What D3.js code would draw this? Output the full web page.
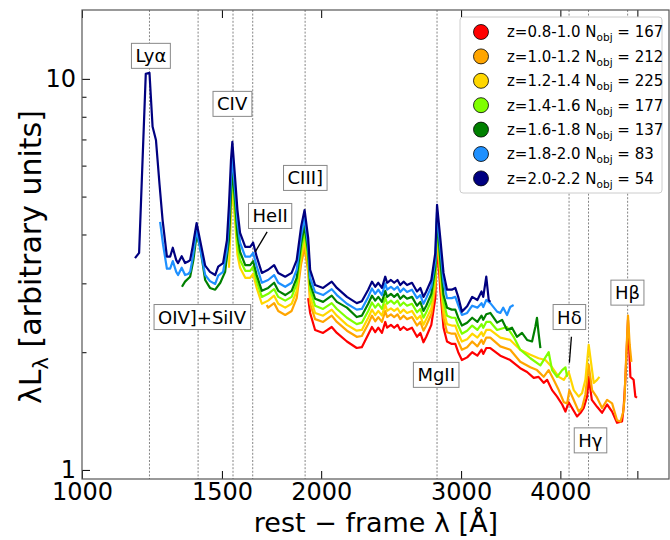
<!DOCTYPE html>
<html><head><meta charset="utf-8">
<script src="https://cdn.jsdelivr.net/npm/d3@7"></script>
<style>body{margin:0;background:#fff}svg text{font-family:"DejaVu Sans",sans-serif}</style>
</head><body><svg id="c" width="670" height="540"></svg>
<script>
// ---- data: composite spectra [rest wavelength (Å), λLλ (arbitrary units)] ----
const specRed = [[1926,2.75],[1937,2.52],[1965,2.28],[2011,2.24],[2062,2.32],[2093,2.24],[2155,2.13],[2217,2.05],[2250,2.06],[2292,2.22],[2317,2.32],[2339,2.25],[2360,2.31],[2385,2.24],[2408,2.39],[2421,2.31],[2448,2.35],[2471,2.31],[2495,2.35],[2515,2.28],[2539,2.32],[2565,2.28],[2602,2.31],[2640,2.19],[2666,2.24],[2690,2.12],[2712,2.19],[2752,2.35],[2784,2.75],[2798,3.87],[2826,2.85],[2851,2.31],[2880,2.13],[2920,2.10],[2950,2.10],[2975,2.00],[3007,1.91],[3053,1.94],[3098,2.00],[3145,1.96],[3183,2.03],[3199,1.98],[3227,2.05],[3265,2.05],[3361,1.96],[3459,1.91],[3561,1.82],[3632,1.78],[3703,1.72],[3755,1.73],[3811,1.67],[3849,1.70],[3905,1.60],[3962,1.54],[4021,1.47],[4059,1.41],[4098,1.49],[4138,1.44],[4198,1.37],[4241,1.40],[4280,1.44],[4322,1.54],[4342,1.73],[4382,1.51],[4449,1.45],[4514,1.40],[4580,1.47],[4647,1.41],[4714,1.32],[4783,1.33],[4806,1.45],[4829,1.70],[4866,2.42],[4900,1.73],[4946,1.70],[4971,1.54],[4995,1.53]];
const specOrange = [[1708,2.64],[1715,2.60],[1745,2.67],[1766,2.55],[1802,2.49],[1836,2.55],[1863,2.75],[1887,3.36],[1906,3.70],[1926,3.21],[1937,2.66],[1965,2.43],[2011,2.39],[2062,2.48],[2093,2.39],[2155,2.27],[2217,2.19],[2250,2.20],[2292,2.36],[2317,2.48],[2339,2.40],[2360,2.46],[2385,2.39],[2408,2.55],[2421,2.46],[2448,2.50],[2471,2.46],[2495,2.50],[2515,2.43],[2539,2.48],[2565,2.43],[2602,2.46],[2640,2.34],[2666,2.39],[2690,2.27],[2712,2.34],[2752,2.50],[2784,2.94],[2798,4.11],[2826,3.03],[2851,2.45],[2880,2.25],[2920,2.23],[2950,2.23],[2975,2.13],[3007,2.03],[3053,2.06],[3098,2.13],[3145,2.07],[3183,2.15],[3199,2.10],[3227,2.18],[3265,2.18],[3361,2.07],[3459,2.03],[3561,1.89],[3667,1.83],[3738,1.80],[3811,1.73],[3866,1.80],[3923,1.70],[3981,1.60],[4040,1.49],[4079,1.48],[4106,1.60],[4158,1.51],[4219,1.41],[4259,1.44],[4301,1.56],[4342,1.86],[4385,1.60],[4449,1.53],[4514,1.44],[4580,1.51],[4647,1.48],[4714,1.34],[4760,1.33],[4797,1.40],[4816,1.51],[4837,1.88],[4866,2.48],[4890,2.09],[4914,1.89]];
const specYellow = [[1531,3.29],[1545,5.36],[1558,4.36],[1569,3.55],[1581,3.29],[1605,3.10],[1628,3.10],[1642,3.17],[1659,2.92],[1684,2.66],[1715,2.71],[1745,2.79],[1766,2.66],[1802,2.60],[1836,2.66],[1863,2.87],[1887,3.50],[1906,3.87],[1926,3.34],[1937,2.77],[1965,2.52],[2011,2.48],[2062,2.57],[2093,2.48],[2155,2.35],[2217,2.27],[2250,2.28],[2292,2.45],[2317,2.57],[2339,2.49],[2360,2.55],[2385,2.48],[2408,2.65],[2421,2.55],[2448,2.59],[2471,2.55],[2495,2.59],[2515,2.52],[2539,2.57],[2565,2.52],[2602,2.55],[2640,2.43],[2666,2.48],[2690,2.35],[2712,2.43],[2752,2.59],[2784,3.04],[2798,4.21],[2826,3.15],[2851,2.57],[2880,2.36],[2920,2.34],[2950,2.34],[2975,2.23],[3007,2.13],[3053,2.16],[3098,2.23],[3145,2.18],[3183,2.25],[3199,2.20],[3227,2.28],[3265,2.28],[3361,2.18],[3459,2.15],[3561,2.03],[3667,1.97],[3755,1.93],[3830,1.91],[3905,1.83],[3981,1.73],[4040,1.70],[4098,1.78],[4158,1.60],[4219,1.54],[4259,1.57],[4301,1.70],[4342,2.09],[4372,1.88],[4406,1.67],[4449,1.70],[4479,1.73]];
const specLime = [[1518,3.40],[1531,4.20],[1545,5.68],[1558,4.62],[1569,3.76],[1581,3.44],[1605,3.23],[1628,3.23],[1642,3.31],[1659,3.04],[1684,2.77],[1715,2.82],[1745,2.90],[1766,2.77],[1802,2.71],[1836,2.77],[1863,2.99],[1887,3.65],[1906,4.06],[1926,3.48],[1937,2.89],[1965,2.63],[2011,2.58],[2062,2.67],[2093,2.58],[2155,2.45],[2217,2.36],[2250,2.38],[2292,2.55],[2317,2.68],[2339,2.60],[2360,2.66],[2385,2.58],[2408,2.76],[2421,2.66],[2448,2.71],[2471,2.66],[2495,2.71],[2515,2.63],[2539,2.68],[2565,2.63],[2602,2.66],[2640,2.53],[2666,2.58],[2690,2.45],[2712,2.53],[2752,2.71],[2784,3.17],[2798,4.31],[2826,3.29],[2851,2.69],[2880,2.48],[2920,2.45],[2950,2.45],[2975,2.34],[3007,2.23],[3053,2.27],[3098,2.34],[3145,2.28],[3183,2.36],[3199,2.31],[3227,2.39],[3265,2.39],[3330,2.28],[3427,2.32],[3493,2.19],[3561,2.03],[3667,1.93],[3775,1.85],[3867,2.00],[3905,1.80],[3962,1.73],[4021,1.80],[4059,1.83],[4079,1.73]];
const specGreen = [[1336,2.94],[1348,3.03],[1368,3.12],[1381,3.44],[1394,3.99],[1408,3.72],[1429,3.06],[1449,2.92],[1471,2.89],[1493,3.01],[1514,3.21],[1531,3.87],[1545,5.92],[1558,4.90],[1569,3.99],[1581,3.61],[1605,3.34],[1628,3.34],[1642,3.42],[1659,3.15],[1684,2.87],[1715,2.92],[1745,3.01],[1766,2.87],[1802,2.80],[1836,2.87],[1863,3.10],[1887,3.79],[1906,4.21],[1926,3.61],[1937,2.99],[1965,2.74],[2011,2.69],[2062,2.79],[2093,2.69],[2155,2.60],[2217,2.46],[2250,2.48],[2292,2.66],[2317,2.79],[2339,2.71],[2360,2.77],[2385,2.69],[2408,2.87],[2421,2.77],[2448,2.82],[2471,2.77],[2495,2.82],[2515,2.74],[2539,2.79],[2565,2.74],[2602,2.77],[2640,2.63],[2666,2.69],[2690,2.55],[2712,2.63],[2752,2.82],[2784,3.29],[2798,4.41],[2826,3.40],[2851,2.80],[2880,2.60],[2920,2.57],[2950,2.57],[2975,2.45],[3007,2.34],[3053,2.38],[3098,2.45],[3145,2.39],[3183,2.48],[3199,2.42],[3227,2.50],[3265,2.52],[3330,2.38],[3378,2.42],[3427,2.28],[3477,2.31],[3527,2.19],[3579,2.24],[3632,2.15],[3685,2.13],[3720,2.32],[3738,2.45],[3755,2.24],[3775,2.05]];
const specBlue = [[1254,4.31],[1265,3.76],[1279,3.27],[1291,3.27],[1301,3.42],[1314,3.21],[1321,3.15],[1335,3.29],[1348,3.15],[1360,3.17],[1368,3.21],[1378,3.48],[1394,4.11],[1408,3.70],[1429,3.15],[1449,3.04],[1471,2.99],[1484,3.14],[1505,3.21],[1522,3.65],[1531,4.36],[1540,5.62],[1546,6.32],[1558,5.20],[1569,4.31],[1581,3.81],[1605,3.51],[1628,3.51],[1642,3.59],[1659,3.32],[1684,3.01],[1715,3.06],[1745,3.15],[1766,3.01],[1802,2.94],[1836,3.01],[1863,3.25],[1887,3.97],[1906,4.41],[1926,3.74],[1937,3.10],[1965,2.85],[2011,2.80],[2062,2.90],[2093,2.80],[2155,2.66],[2217,2.57],[2250,2.58],[2292,2.77],[2317,2.91],[2339,2.82],[2360,2.89],[2385,2.80],[2408,3.00],[2421,2.89],[2448,2.94],[2471,2.89],[2495,2.94],[2515,2.85],[2539,2.91],[2565,2.85],[2602,2.89],[2640,2.75],[2666,2.80],[2690,2.66],[2712,2.75],[2752,2.94],[2784,3.44],[2798,4.57],[2826,3.65],[2851,3.03],[2880,2.75],[2920,2.75],[2950,2.77],[2975,2.64],[3007,2.49],[3053,2.52],[3098,2.63],[3145,2.60],[3183,2.67],[3199,2.61],[3227,2.72],[3265,2.67],[3330,2.54],[3361,2.52],[3390,2.60],[3427,2.49],[3459,2.61],[3493,2.64]];
const specNavy = [[1166,3.48],[1180,3.59],[1203,10.30],[1216,10.36],[1227,7.54],[1239,6.98],[1252,5.36],[1263,4.36],[1279,3.51],[1291,3.51],[1301,3.70],[1314,3.44],[1321,3.38],[1335,3.52],[1348,3.38],[1360,3.41],[1368,3.44],[1378,3.72],[1394,4.28],[1408,3.87],[1429,3.33],[1449,3.21],[1471,3.15],[1484,3.31],[1505,3.38],[1522,3.87],[1531,4.76],[1540,6.21],[1546,6.90],[1558,5.62],[1569,4.62],[1581,4.04],[1605,3.72],[1628,3.72],[1642,3.81],[1659,3.51],[1684,3.19],[1715,3.25],[1745,3.34],[1766,3.19],[1802,3.12],[1836,3.19],[1863,3.44],[1887,4.19],[1906,4.62],[1926,3.92],[1937,3.25],[1965,2.97],[2011,2.92],[2062,3.03],[2093,2.92],[2155,2.77],[2217,2.67],[2250,2.70],[2292,2.89],[2317,3.03],[2339,2.94],[2360,3.01],[2385,2.92],[2408,3.12],[2421,3.01],[2448,3.06],[2471,3.01],[2495,3.06],[2515,2.97],[2539,3.03],[2565,2.97],[2602,3.01],[2640,2.86],[2666,2.92],[2690,2.77],[2712,2.86],[2752,3.06],[2784,3.59],[2798,4.76],[2826,3.87],[2851,3.19],[2880,2.89],[2920,2.89],[2950,2.92],[2975,2.77],[3007,2.54],[3053,2.62],[3098,2.77],[3145,2.72],[3183,2.86],[3199,2.77],[3227,3.12],[3250,2.72],[3265,2.69]];

const zBins = ["z=0.8-1.0","z=1.0-1.2","z=1.2-1.4","z=1.4-1.6","z=1.6-1.8","z=1.8-2.0","z=2.0-2.2"];
const nObj = [167,212,225,177,137,83,54];
const colors = ["#ff0000","#ffa500","#ffd700","#7fff00","#008000","#1e90ff","#000080"];
const spectra = [specRed,specOrange,specYellow,specLime,specGreen,specBlue,specNavy];

// emission lines: name, rest wavelength, label anchor (λ, value)
const lineNames = ["Lyα","OIV]+SiIV","CIV","HeII","CIII]","MgII","Hδ","Hγ","Hβ"];
const lineWaves = [1216,1400,1549,1640,1909,2798,4102,4340,4861];
const labelWaves = [1221,1416,1545,1725,1910,2791,4106,4363,4858];
const labelVals = [11.45,2.46,8.63,4.46,5.58,1.75,2.46,1.19,2.84];

const xTicks = [1000,1500,2000,3000,4000,5000];
const xTickLabels = ["1000","1500","2000","3000","4000",""];

// ---- drawing ----
const svg = d3.select("#c");
const L=82, R=669, T=10, B=479;
const x = d3.scaleLog().domain([1000,5480]).range([L,R]);
const y = d3.scaleLog().domain([0.948,15]).range([B,T]);

svg.append("defs").append("clipPath").attr("id","clip")
  .append("rect").attr("x",L).attr("y",T).attr("width",R-L).attr("height",B-T);

// vertical dotted lines
svg.append("g").selectAll("line").data(lineWaves).join("line")
  .attr("x1",d=>x(d)).attr("x2",d=>x(d)).attr("y1",T).attr("y2",B)
  .attr("stroke","#666").attr("stroke-width",0.8).attr("stroke-dasharray","2,1.6");

// spectra
const line = d3.line().x(d=>x(d[0])).y(d=>y(d[1]));
svg.append("g").attr("clip-path","url(#clip)").selectAll("path").data(spectra).join("path")
  .attr("d",line).attr("fill","none").attr("stroke",(d,i)=>colors[i])
  .attr("stroke-width",2.2).attr("stroke-linejoin","round");

// axes
const fs = 24;
const gx = svg.append("g").attr("transform",`translate(0,${B})`)
  .call(d3.axisBottom(x).tickValues(xTicks).tickFormat((d,i)=>xTickLabels[i]).tickSizeInner(-8).tickSizeOuter(0).tickPadding(4));
const gxt = svg.append("g").attr("transform",`translate(0,${T})`)
  .call(d3.axisTop(x).tickValues(xTicks).tickFormat("").tickSizeInner(-8).tickSizeOuter(0));
const yMajor=[1,10], yMinor=[2,3,4,5,6,7,8,9];
const gy = svg.append("g").attr("transform",`translate(${L},0)`)
  .call(d3.axisLeft(y).tickValues(yMajor).tickFormat(d3.format("d")).tickSizeInner(-8).tickSizeOuter(0).tickPadding(6));
const gym = svg.append("g").attr("transform",`translate(${L},0)`)
  .call(d3.axisLeft(y).tickValues(yMinor).tickFormat("").tickSizeInner(-4.5).tickSizeOuter(0));
[gx,gxt,gy,gym].forEach(g=>{
  g.select(".domain").remove();
  g.selectAll("text").attr("font-size",fs).attr("fill","#000").attr("font-family","DejaVu Sans");
  g.selectAll(".tick line").attr("stroke","#000").attr("stroke-width",1);
});
gy.selectAll("text").attr("dy","0.30em");
// frame
svg.append("rect").attr("x",L).attr("y",T).attr("width",R-L).attr("height",B-T)
  .attr("fill","none").attr("stroke","#555").attr("stroke-width",1.2);

// line labels
const lab = svg.append("g");
lineNames.forEach((nm,i)=>{
  const g = lab.append("g");
  const t = g.append("text").attr("x",x(labelWaves[i])).attr("y",y(labelVals[i]))
    .attr("text-anchor","middle").attr("dy","0.36em").attr("font-size",18).text(nm);
  const bb = t.node().getBBox();
  g.insert("rect","text").attr("x",bb.x-4).attr("y",bb.y-2).attr("width",bb.width+8).attr("height",bb.height+4)
    .attr("fill","#fff").attr("stroke","#888").attr("stroke-width",1);
});
// pointer lines for HeII and Hδ
const pointers = [[[1710,4.06],[1652,3.61]],[[4130,2.19],[4106,1.88]]];
svg.append("g").selectAll("line").data(pointers).join("line")
  .attr("x1",d=>x(d[0][0])).attr("y1",d=>y(d[0][1])).attr("x2",d=>x(d[1][0])).attr("y2",d=>y(d[1][1]))
  .attr("stroke","#000").attr("stroke-width",1.3);

// legend
const lg = svg.append("g");
lg.append("rect").attr("x",460).attr("y",17).attr("width",202).attr("height",176).attr("rx",3)
  .attr("fill","#fff").attr("stroke","#ccc").attr("stroke-width",1);
zBins.forEach((z,i)=>{
  const cy = 32 + i*24.4;
  lg.append("circle").attr("cx",481).attr("cy",cy).attr("r",7.5).attr("fill",colors[i]).attr("stroke","#000").attr("stroke-width",0.8);
  const t = lg.append("text").attr("x",507).attr("y",cy).attr("dy","0.36em").attr("font-size",15);
  t.append("tspan").text(z+" N");
  t.append("tspan").attr("font-size",10.5).attr("dy",4).text("obj");
  t.append("tspan").attr("dy",-4).text(" = "+nObj[i]);
});

// axis titles
const xt = svg.append("text").attr("x",376).attr("y",532).attr("text-anchor","middle").attr("font-size",27);
xt.text("rest − frame λ [Å]");
const yt = svg.append("text").attr("transform","translate(41,257) rotate(-90)").attr("text-anchor","middle").attr("font-size",30);
yt.append("tspan").text("λL");
yt.append("tspan").attr("font-size",21).attr("dy",7).text("λ");
yt.append("tspan").attr("dy",-7).text(" [arbitrary units]");
</script></body></html>
